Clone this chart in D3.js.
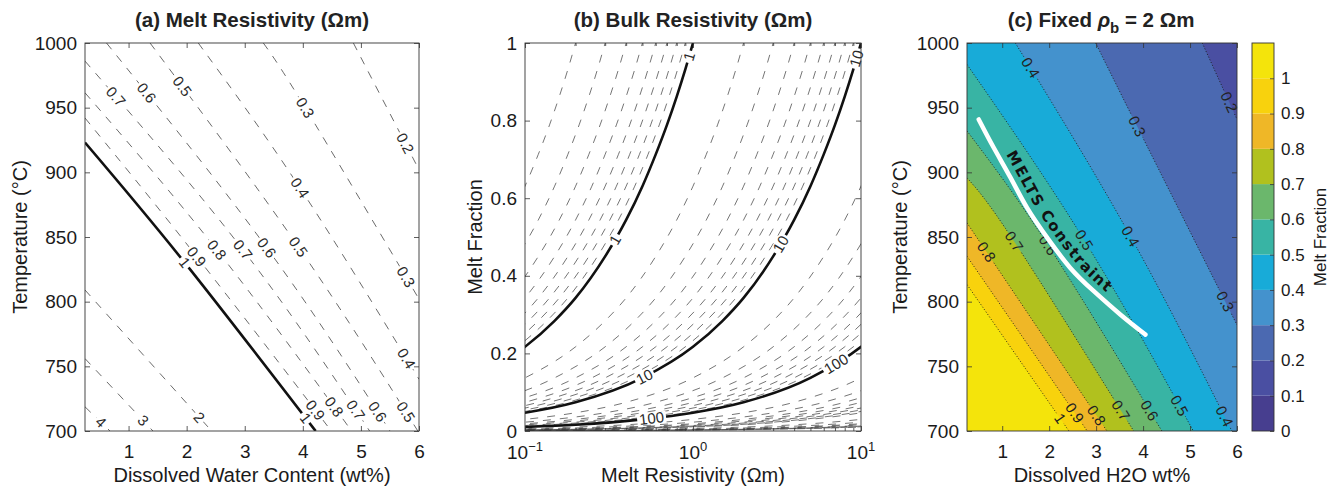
<!DOCTYPE html>
<html>
<head>
<meta charset="utf-8">
<title>Melt resistivity, bulk resistivity and melt fraction</title>
<script src="https://cdn.jsdelivr.net/npm/d3@7"></script>
<style>
  body { margin: 0; background: #fff; }
  svg { display: block; font-family: "Liberation Sans", Arial, Helvetica, sans-serif; }
  .tick text { font-size: 19px; fill: #1a1a1a; font-family: "Liberation Sans", Arial, sans-serif; }
  .tick line { stroke: #333; stroke-width: 0.8; }
  .cbar .tick text { font-size: 17px; }
</style>
</head>
<body>
<svg id="fig" width="1336" height="493"></svg>
<script>
// ---------------- shared axes ----------------
var waterDomain = [0.25, 6];
var tempDomain = [700, 1000];
var waterTicks = [1, 2, 3, 4, 5, 6];
var tempTicks = [700, 750, 800, 850, 900, 950, 1000];

// ---------------- (a) melt resistivity contours, points read as [wt%, degC] ----------------
var meltLevels = [4, 3, 2, 1, 0.9, 0.8, 0.7, 0.6, 0.5, 0.4, 0.3, 0.2];
var meltLines = [
  [[0.25, 718.7], [0.68, 700]],
  [[0.25, 756], [1.42, 700]],
  [[0.25, 809], [2.43, 700]],
  [[0.25, 923], [1.97, 830], [4.22, 700]],
  [[0.25, 942], [2.17, 835], [4.49, 700]],
  [[0.25, 961.5], [2.52, 840], [4.84, 700]],
  [[0.25, 986], [2.97, 840], [5.15, 700]],
  [[0.62, 1000], [3.38, 841.6], [5.50, 700]],
  [[1.37, 1000], [3.92, 842.6], [5.98, 700]],
  [[2.20, 1000], [3.95, 888], [6, 740]],
  [[3.32, 1000], [4.04, 950], [6, 802]],
  [[4.87, 1000], [6, 902]]
];
// [level, wt%, degC]
var meltLabels = [
  [0.7, 0.79, 958.7], [0.6, 1.31, 961.3], [0.5, 1.91, 966.4], [0.3, 4.04, 950], [0.2, 5.76, 922.6],
  [0.4, 3.95, 888], [0.5, 3.92, 842.6], [0.6, 3.38, 841.6], [0.7, 2.97, 840], [0.8, 2.52, 840],
  [0.9, 2.17, 835], [1, 1.97, 830], [0.3, 5.77, 819.4], [0.4, 5.77, 756],
  [0.5, 5.76, 714.9], [0.6, 5.28, 714.9], [0.7, 4.90, 716.2], [0.8, 4.53, 718.7], [0.9, 4.21, 716],
  [1, 4.07, 710.6], [2, 2.23, 711], [3, 1.25, 708.5], [4, 0.53, 707]
];

// ---------------- (b) bulk resistivity contours ----------------
var bulkLevels = [0.2, 0.3, 0.4, 0.5, 0.6, 0.7, 0.8, 0.9, 1,
  2, 3, 4, 5, 6, 7, 8, 9, 10,
  20, 30, 40, 50, 60, 70, 80, 90, 100,
  200, 300, 400, 500, 600, 700, 800, 900, 1000,
  2000, 3000, 4000, 5000, 6000, 7000, 8000, 9000, 10000];
var boldLevels = [1, 10, 100];
// the contours are one shape shifted along the log axis:
// melt fraction read against (melt resistivity / bulk resistivity)
var resistRatio = [0.00001, 0.00003, 0.0001, 0.0003, 0.001, 0.002, 0.005, 0.01, 0.02, 0.05,
  0.1, 0.15, 0.2, 0.3, 0.4, 0.5, 0.6, 0.7, 0.8, 0.9, 1];
var ratioFraction = [0.0005, 0.001, 0.0022, 0.0046, 0.0102, 0.016, 0.030, 0.047, 0.074, 0.137,
  0.217, 0.284, 0.343, 0.450, 0.544, 0.631, 0.713, 0.789, 0.862, 0.932, 1.0];
// [level, melt resistivity, melt fraction]
var bulkLabels = [
  [1, 0.344, 0.493], [1, 0.96, 0.965], [10, 0.51, 0.141], [10, 3.38, 0.48],
  [10, 9.25, 0.96], [100, 0.57, 0.03], [100, 7.36, 0.162]
];
var bulkTicks = [0.1, 1, 10];
var bulkTickExp = ["\u22121", "0", "1"];
var bulkMinor = [0.2, 0.3, 0.4, 0.5, 0.6, 0.7, 0.8, 0.9, 2, 3, 4, 5, 6, 7, 8, 9];
var fractionTicks = [0, 0.2, 0.4, 0.6, 0.8, 1];

// ---------------- (c) melt fraction at fixed bulk resistivity ----------------
var fractionLevels = [0.2, 0.3, 0.4, 0.5, 0.6, 0.7, 0.8, 0.9, 1.0];
var fractionLines = [
  [[5.26, 1000], [6, 941]],
  [[2.99, 1000], [3.87, 935.8], [6, 782]],
  [[1.28, 1000], [3.73, 850.6], [5.89, 700]],
  [[0.25, 983.4], [2.74, 848], [5.07, 700]],
  [[0.25, 932], [1.97, 844], [4.40, 700]],
  [[0.25, 895.7], [1.25, 846.8], [3.80, 700]],
  [[0.25, 860.9], [3.23, 700]],
  [[0.25, 835.1], [2.81, 700]],
  [[0.25, 813.2], [2.42, 700]]
];
var fractionLabels = [
  [0.4, 1.60, 980.6], [0.3, 3.87, 935.8], [0.2, 5.79, 953.8], [0.5, 2.74, 848], [0.6, 1.97, 844],
  [0.4, 3.73, 850.6], [0.7, 1.25, 846.8], [0.8, 0.68, 839], [0.3, 5.75, 800.3], [1, 2.24, 710],
  [0.9, 2.52, 713.9], [0.8, 3.02, 712.6], [0.7, 3.59, 717.7], [0.6, 4.12, 715.2], [0.5, 4.79, 720.3],
  [0.4, 5.72, 711.3]
];
var bandColors = ["#473e8f", "#4a4fa2", "#4b69b1", "#4492cd", "#18abd8", "#38b4a4",
  "#6bb76c", "#b1c11e", "#efb727", "#f8d20d", "#f4e40b"];
var barTicks = [0, 0.1, 0.2, 0.3, 0.4, 0.5, 0.6, 0.7, 0.8, 0.9, 1];
var meltsWater = [0.50, 0.82, 1.18, 1.53, 1.96, 2.45, 2.95, 3.52, 4.05];
var meltsTemp = [940.9, 919.0, 895.7, 872.5, 849.3, 826.1, 808.1, 789.9, 774.5];

// ---------------- layout ----------------
var svg = d3.select("#fig");
var plotTop = 43, plotBottom = 431;

var xa = d3.scaleLinear().domain(waterDomain).range([85, 419]);
var ya = d3.scaleLinear().domain(tempDomain).range([plotBottom, plotTop]);
var xb = d3.scaleLog().domain([0.1, 10]).range([525, 861]);
var yb = d3.scaleLinear().domain([0, 1]).range([plotBottom, plotTop]);
var xc = d3.scaleLinear().domain(waterDomain).range([967, 1237]);
var yc = d3.scaleLinear().domain(tempDomain).range([plotBottom, plotTop]);
var yBar = d3.scaleLinear().domain([0, 1.1]).range([plotBottom, plotTop]);
var barLeft = 1252, barRight = 1274;

var defs = svg.append("defs");

function clipFor(id, x, y) {
  defs.append("clipPath").attr("id", id).append("rect")
    .attr("x", x.range()[0]).attr("y", y.range()[1])
    .attr("width", x.range()[1] - x.range()[0])
    .attr("height", y.range()[0] - y.range()[1]);
}
function holeMask(id) {
  var m = defs.append("mask").attr("id", id).attr("maskUnits", "userSpaceOnUse")
    .attr("x", 0).attr("y", 0).attr("width", 1336).attr("height", 493);
  m.append("rect").attr("width", 1336).attr("height", 493).attr("fill", "white");
  return m;
}

function axes(g, x, y, xVals, yVals, xFmt, yFmt) {
  g.append("g").attr("transform", "translate(0," + y.range()[0] + ")")
    .call(d3.axisBottom(x).tickValues(xVals).tickFormat(xFmt).tickSizeInner(-5).tickSizeOuter(0).tickPadding(14));
  g.append("g").attr("transform", "translate(0," + y.range()[1] + ")")
    .call(d3.axisTop(x).tickValues(xVals).tickFormat("").tickSizeInner(-5).tickSizeOuter(0));
  g.append("g").attr("transform", "translate(" + x.range()[0] + ",0)")
    .call(d3.axisLeft(y).tickValues(yVals).tickFormat(yFmt).tickSizeInner(-5).tickSizeOuter(0).tickPadding(8));
  g.append("g").attr("transform", "translate(" + x.range()[1] + ",0)")
    .call(d3.axisRight(y).tickValues(yVals).tickFormat("").tickSizeInner(-5).tickSizeOuter(0));
  g.selectAll(".domain").remove();
}
function box(g, x, y) {
  g.append("rect")
    .attr("x", x.range()[0]).attr("y", y.range()[1])
    .attr("width", x.range()[1] - x.range()[0]).attr("height", y.range()[0] - y.range()[1])
    .attr("fill", "none").attr("stroke", "#333").attr("stroke-width", 0.9);
}

// put each label on its contour, rotated along it, and cut a hole in the line under it
function contourLabels(layer, mask, nodeFor, labels, x, y, color) {
  labels.forEach(function(d) {
    var node = nodeFor[d[0]];
    var px = x(d[1]), py = y(d[2]);
    var len = node.getTotalLength(), best = 0, bestD = Infinity;
    for (var s = 0; s <= len; s += 1) {
      var p = node.getPointAtLength(s);
      var dd = (p.x - px) * (p.x - px) + (p.y - py) * (p.y - py);
      if (dd < bestD) { bestD = dd; best = s; }
    }
    var pc = node.getPointAtLength(best),
        p0 = node.getPointAtLength(Math.max(0, best - 3)),
        p1 = node.getPointAtLength(Math.min(len, best + 3));
    var ang = Math.atan2(p1.y - p0.y, p1.x - p0.x) * 180 / Math.PI;
    if (ang > 90) ang -= 180;
    if (ang <= -90) ang += 180;
    var tr = "translate(" + pc.x + "," + pc.y + ") rotate(" + ang + ")";
    var t = layer.append("text").attr("transform", tr)
      .attr("text-anchor", "middle").attr("dy", "0.35em")
      .attr("font-size", 15).attr("fill", color)
      .text(String(d[0]));
    var w = t.node().getComputedTextLength();
    mask.append("rect").attr("transform", tr)
      .attr("x", -w / 2 - 2).attr("y", -6).attr("width", w + 4).attr("height", 12)
      .attr("fill", "black");
  });
}

function title(x, txt) {
  return svg.append("text").attr("x", x).attr("y", 27).attr("text-anchor", "middle")
    .attr("font-size", 20.5).attr("font-weight", "bold").attr("fill", "#222").text(txt);
}
function xTitle(x, txt) {
  svg.append("text").attr("x", x).attr("y", 482).attr("text-anchor", "middle")
    .attr("font-size", 20).attr("fill", "#1a1a1a").text(txt);
}
function yTitle(x, txt, size) {
  svg.append("text").attr("transform", "translate(" + x + "," + 237 + ") rotate(-90)")
    .attr("text-anchor", "middle").attr("dy", "0.35em")
    .attr("font-size", size || 20).attr("fill", "#1a1a1a").text(txt);
}

clipFor("clipA", xa, ya);
clipFor("clipB", xb, yb);
clipFor("clipC", xc, yc);

// ================= (a) =================
var gA = svg.append("g");
var lineA = d3.line().x(function(d) { return xa(d[0]); }).y(function(d) { return ya(d[1]); })
  .curve(d3.curveNatural);
var maskA = holeMask("holesA");
var linesA = gA.append("g").attr("clip-path", "url(#clipA)").append("g").attr("mask", "url(#holesA)");
var nodeA = {};
meltLevels.forEach(function(lv, i) {
  var p = linesA.append("path").attr("d", lineA(meltLines[i])).attr("fill", "none")
    .attr("stroke", lv === 1 ? "#111" : "#3a3a3a")
    .attr("stroke-width", lv === 1 ? 2.6 : 0.75)
    .attr("stroke-dasharray", lv === 1 ? null : "8,8");
  nodeA[lv] = p.node();
});
contourLabels(gA, maskA, nodeA, meltLabels, xa, ya, "#2a2a2a");
axes(gA, xa, ya, waterTicks, tempTicks, d3.format("d"), d3.format("d"));
box(gA, xa, ya);
title(252, "(a) Melt Resistivity (\u03A9m)");
xTitle(252, "Dissolved Water Content (wt%)");
yTitle(20, "Temperature (\u00B0C)");

// ================= (b) =================
var gB = svg.append("g");
var lineB = d3.line().x(function(d) { return xb(d[0]); }).y(function(d) { return yb(d[1]); })
  .curve(d3.curveMonotoneX);
var maskB = holeMask("holesB");
var linesB = gB.append("g").attr("clip-path", "url(#clipB)").append("g").attr("mask", "url(#holesB)");
var nodeB = {};
bulkLevels.forEach(function(lv) {
  var pts = resistRatio.map(function(r, i) { return [r * lv, ratioFraction[i]]; });
  var bold = boldLevels.indexOf(lv) >= 0;
  var p = linesB.append("path").attr("d", lineB(pts)).attr("fill", "none")
    .attr("stroke", bold ? "#111" : "#3a3a3a")
    .attr("stroke-width", bold ? 2.6 : 0.7)
    .attr("stroke-dasharray", bold ? null : "8,9");
  nodeB[lv] = p.node();
});
contourLabels(gB, maskB, nodeB, bulkLabels, xb, yb, "#2a2a2a");
axes(gB, xb, yb, bulkTicks, fractionTicks, "", function(d) { return String(d); });
gB.append("g").attr("transform", "translate(0," + plotBottom + ")")
  .call(d3.axisBottom(xb).tickValues(bulkMinor).tickFormat("").tickSizeInner(-3).tickSizeOuter(0));
gB.append("g").attr("transform", "translate(0," + plotTop + ")")
  .call(d3.axisTop(xb).tickValues(bulkMinor).tickFormat("").tickSizeInner(-3).tickSizeOuter(0));
gB.selectAll(".domain").remove();
bulkTicks.forEach(function(v, i) {
  var t = gB.append("text").attr("x", xb(v)).attr("y", plotBottom + 28)
    .attr("text-anchor", "middle").attr("font-size", 19).attr("fill", "#1a1a1a");
  t.append("tspan").text("10");
  t.append("tspan").attr("dy", -8).attr("font-size", 13).text(bulkTickExp[i]);
});
box(gB, xb, yb);
title(693, "(b) Bulk Resistivity (\u03A9m)");
xTitle(693, "Melt Resistivity (\u03A9m)");
yTitle(475, "Melt Fraction");

// ================= (c) =================
var gC = svg.append("g");
var lineC = d3.line().x(function(d) { return xc(d[0]); }).y(function(d) { return yc(d[1]); })
  .curve(d3.curveNatural);
var fillC = gC.append("g").attr("clip-path", "url(#clipC)");
fillC.append("rect")
  .attr("x", xc.range()[0]).attr("y", yc.range()[1])
  .attr("width", xc.range()[1] - xc.range()[0]).attr("height", yc.range()[0] - yc.range()[1])
  .attr("fill", bandColors[1]);
fractionLevels.forEach(function(lv, i) {
  var d = lineC(fractionLines[i]) +
    "L" + xc(waterDomain[1]) + "," + yc(tempDomain[0]) +
    "L" + xc(waterDomain[0]) + "," + yc(tempDomain[0]) +
    "L" + xc(waterDomain[0]) + "," + yc(tempDomain[1]) + "Z";
  fillC.append("path").attr("d", d).attr("fill", bandColors[Math.round(lv * 10)]);
});
var maskC = holeMask("holesC");
var linesC = gC.append("g").attr("clip-path", "url(#clipC)").append("g").attr("mask", "url(#holesC)");
var nodeC = {};
fractionLevels.forEach(function(lv, i) {
  var p = linesC.append("path").attr("d", lineC(fractionLines[i])).attr("fill", "none")
    .attr("stroke", "#1a1a1a").attr("stroke-width", 0.9).attr("stroke-dasharray", "1,2");
  nodeC[lv] = p.node();
});
contourLabels(gC, maskC, nodeC, fractionLabels, xc, yc, "#222");

var meltsPts = meltsWater.map(function(w, i) { return [w, meltsTemp[i]]; });
gC.append("path").attr("id", "meltsPath").attr("d", lineC(meltsPts))
  .attr("fill", "none").attr("stroke", "#fff").attr("stroke-width", 4.5).attr("stroke-linecap", "round");
gC.append("text").attr("dy", -7.5)
  .attr("font-family", "'DejaVu Sans', Verdana, sans-serif").attr("font-weight", "bold")
  .attr("font-size", 15).attr("letter-spacing", 1.8).attr("fill", "#111")
  .append("textPath").attr("href", "#meltsPath").attr("startOffset", 44)
  .text("MELTS Constraint");

axes(gC, xc, yc, waterTicks, tempTicks, d3.format("d"), d3.format("d"));
box(gC, xc, yc);
var tc = svg.append("text").attr("x", 1101).attr("y", 27).attr("text-anchor", "middle")
  .attr("font-size", 20.5).attr("font-weight", "bold").attr("fill", "#222");
tc.append("tspan").text("(c) Fixed ");
tc.append("tspan").attr("font-style", "italic").text("\u03C1");
tc.append("tspan").attr("dy", 6).attr("font-size", 15).text("b");
tc.append("tspan").attr("dy", -6).text(" = 2 \u03A9m");
xTitle(1102, "Dissolved H2O wt%");
yTitle(900, "Temperature (\u00B0C)");

// colorbar
var gBar = svg.append("g").attr("class", "cbar");
barTicks.forEach(function(v, i) {
  gBar.append("rect").attr("x", barLeft).attr("width", barRight - barLeft)
    .attr("y", yBar(v + 0.1)).attr("height", yBar(v) - yBar(v + 0.1))
    .attr("fill", bandColors[i]);
});
gBar.append("g").attr("transform", "translate(" + barRight + ",0)")
  .call(d3.axisRight(yBar).tickValues(barTicks).tickFormat(function(d) { return String(d); })
    .tickSizeInner(-4).tickSizeOuter(0).tickPadding(7));
gBar.selectAll(".domain").remove();
gBar.append("rect").attr("x", barLeft).attr("y", plotTop)
  .attr("width", barRight - barLeft).attr("height", plotBottom - plotTop)
  .attr("fill", "none").attr("stroke", "#333").attr("stroke-width", 0.9);
yTitle(1320, "Melt Fraction", 17);
</script>
</body>
</html>
